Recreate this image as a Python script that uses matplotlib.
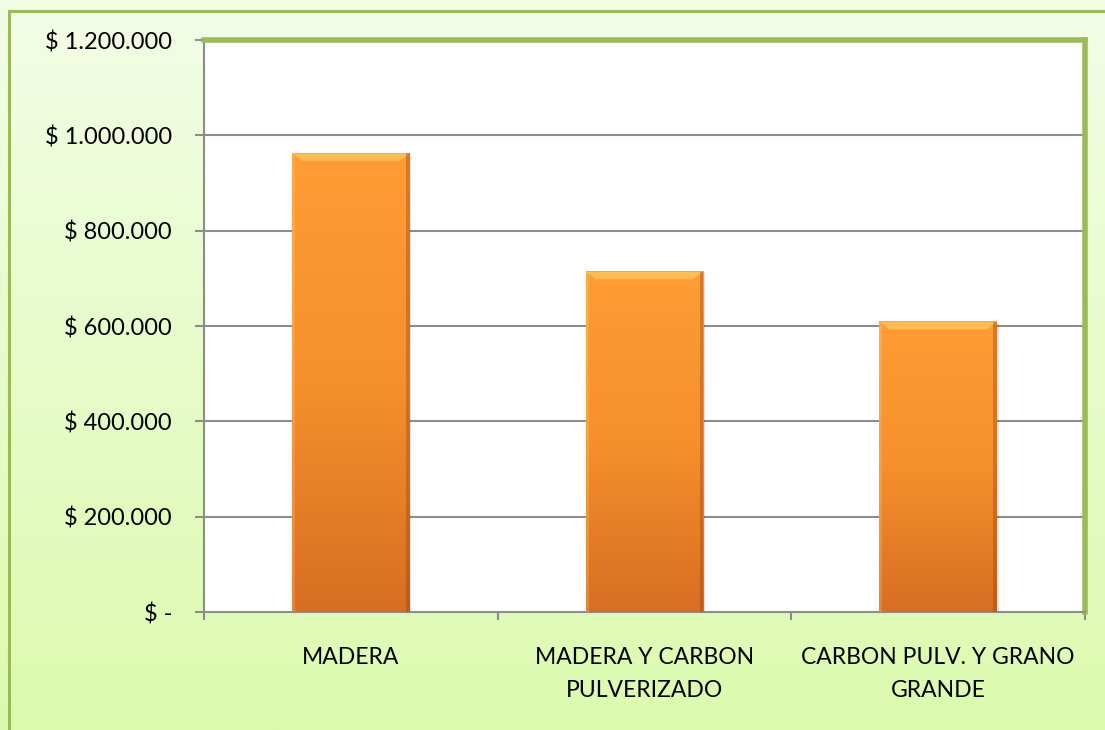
import matplotlib
matplotlib.use("Agg")
import matplotlib.pyplot as plt
import numpy as np
from matplotlib.patches import Rectangle, Polygon
from matplotlib.colors import LinearSegmentedColormap

categories = ["MADERA", "MADERA Y CARBON\nPULVERIZADO", "CARBON PULV. Y GRANO\nGRANDE"]
values = [962000, 714000, 609000]
yticks = [0, 200000, 400000, 600000, 800000, 1000000, 1200000]
ytick_labels = ["$ -", "$ 200.000", "$ 400.000", "$ 600.000", "$ 800.000", "$ 1.000.000", "$ 1.200.000"]

W, H = 1105, 730
plt.rcParams['font.family'] = ['Lato', 'DejaVu Sans']
fig = plt.figure(figsize=(W/100, H/100), dpi=100)

# background gradient
bg = fig.add_axes([0, 0, 1, 1], zorder=-10)
bg_cmap = LinearSegmentedColormap.from_list("bg", ["#F3FDE6", "#DCFAAE"])
grad = np.linspace(0, 1, 256).reshape(-1, 1)
bg.imshow(grad, aspect='auto', cmap=bg_cmap, extent=[0, 1, 0, 1], origin='upper')
bg.set_xlim(0, 1); bg.set_ylim(0, 1)
bg.axis('off')
bg.add_patch(Rectangle((9/W, -0.1), 1.2, (H - 11)/H + 0.1, fill=False,
                       edgecolor="#9BBB59", linewidth=2.2, transform=bg.transAxes))

left, right, top, bottom = 204, 1085, 40, 612
ax = fig.add_axes([left/W, 1 - bottom/H, (right-left)/W, (bottom-top)/H])
ax.set_facecolor("white")
x = np.arange(len(categories))
ax.set_xlim(-0.5, len(categories) - 0.5)
ax.set_ylim(0, 1200000)

for v in yticks[1:-1]:
    ax.axhline(v, color="#8C8C8C", linewidth=1.5, zorder=1)

bar_cmap = LinearSegmentedColormap.from_list("bar", ["#FF9C34", "#F5902C", "#D86E22"])
bw = 0.40
ax.bar(x, values, width=bw, color="none", edgecolor="none", zorder=3)
for xi, v in zip(x, values):
    ax.add_patch(Rectangle((xi - bw/2 + 0.006, 0), bw, v - 3000, facecolor="#000000",
                           alpha=0.12, edgecolor="none", zorder=2))
    g = np.linspace(0, 1, 256).reshape(-1, 1)
    ax.imshow(g, aspect='auto', cmap=bar_cmap, extent=[xi - bw/2, xi + bw/2, 0, v],
              origin='upper', zorder=3)
    bx0, bx1 = xi - bw/2, xi + bw/2
    d = 0.035
    ax.add_patch(Polygon([(bx0, v), (bx1, v), (bx1 - d, v - 16000), (bx0 + d, v - 16000)],
                         closed=True, facecolor="#FFC85C", alpha=0.75, edgecolor="none", zorder=4))
    ax.add_patch(Rectangle((bx1 - 0.012, 0), 0.012, v, facecolor="#8A4210",
                           alpha=0.35, edgecolor="none", zorder=4))
    ax.add_patch(Rectangle((bx0, 0), 0.010, v, facecolor="#FFD080",
                           alpha=0.25, edgecolor="none", zorder=4))

ax.set_yticks(yticks)
ax.set_yticklabels(ytick_labels)
ax.set_xticks(x)
ax.set_xticklabels(categories, linespacing=1.75)
ax.tick_params(axis='x', length=0, pad=25, labelsize=16.5)
ax.tick_params(axis='y', length=6.5, width=1.5, color="#8C8C8C", pad=16.5, labelsize=17)
ax.set_xticks([-0.5, 0.5, 1.5, 2.5], minor=True)
ax.tick_params(axis='x', which='minor', length=6, width=1.5, color="#8C8C8C")

for s in ['top', 'right']:
    ax.spines[s].set_color("#9BBB59")
    ax.spines[s].set_linewidth(4)
for s in ['left', 'bottom']:
    ax.spines[s].set_color("#8C8C8C")
    ax.spines[s].set_linewidth(1.5)

fig.savefig("out.png", dpi=100)
